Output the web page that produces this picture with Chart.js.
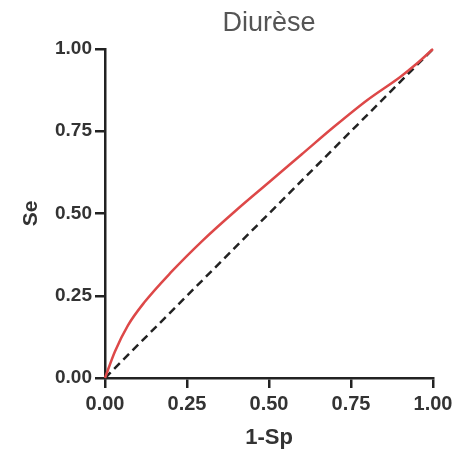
<!DOCTYPE html>
<html>
<head>
<meta charset="utf-8">
<script src="https://cdn.jsdelivr.net/npm/chart.js@4"></script>
<style>
  html, body { margin: 0; padding: 0; background: #fff; }
  #wrap { width: 457px; height: 454px; }
</style>
</head>
<body>
<div id="wrap"><canvas id="c" width="457" height="454"></canvas></div>
<script>
const chartTitle = 'Diurèse';
const xTitle = '1-Sp';
const yTitle = 'Se';
const tickValues = [0, 0.25, 0.5, 0.75, 1];
const rocX = [0, 0.03, 0.07, 0.12, 0.2, 0.3, 0.4, 0.5, 0.6, 0.7, 0.8, 0.9, 0.95, 1];
const rocY = [0, 0.08, 0.16, 0.23, 0.32, 0.42, 0.51, 0.595, 0.68, 0.765, 0.845, 0.915, 0.955, 1];
const refX = [0, 1];
const refY = [0, 1];

const rocData = rocX.map((x, i) => ({ x: x, y: rocY[i] }));
const refData = refX.map((x, i) => ({ x: x, y: refY[i] }));

const axisColor = '#222';
const textColor = '#333';
const FONT = "'Liberation Sans', Arial, sans-serif";

new Chart(document.getElementById('c'), {
  type: 'scatter',
  data: {
    datasets: [
      {
        label: 'Diagonale',
        data: refData,
        showLine: true,
        borderColor: '#222',
        borderWidth: 2.5,
        borderDash: [8, 5],
        pointRadius: 0,
        fill: false,
        clip: false,
        order: 2
      },
      {
        label: 'Diurèse',
        data: rocData,
        showLine: true,
        borderColor: '#dd4848',
        borderWidth: 2.5,
        pointRadius: 0,
        cubicInterpolationMode: 'monotone',
        fill: false,
        clip: false,
        order: 1
      }
    ]
  },
  options: {
    responsive: false,
    animation: false,
    layout: { padding: { left: 0, right: 24, top: 0, bottom: 0 } },
    plugins: {
      legend: { display: false },
      tooltip: { enabled: false },
      title: {
        display: true,
        text: chartTitle,
        fullSize: false,
        color: '#555',
        font: { family: FONT, size: 27, weight: 'normal' },
        padding: { top: 7, bottom: 9.6 }
      }
    },
    scales: {
      x: {
        type: 'linear',
        min: 0,
        max: 1,
        afterBuildTicks: (s) => { s.ticks = tickValues.map(v => ({ value: v })); },
        afterFit: (s) => { s.height = 76; },
        border: { display: true, color: axisColor, width: 2.5 },
        grid: { display: true, drawOnChartArea: false, drawTicks: true, tickLength: 10, color: axisColor, lineWidth: 2.5 },
        ticks: {
          color: textColor,
          padding: 4,
          maxRotation: 0,
          font: { family: FONT, size: 20, weight: 'bold' },
          callback: (v) => Number(v).toFixed(2)
        },
        title: {
          display: true,
          text: xTitle,
          color: textColor,
          font: { family: FONT, size: 22, weight: 'bold' },
          padding: { top: 0, bottom: 3 }
        }
      },
      y: {
        type: 'linear',
        min: 0,
        max: 1,
        afterBuildTicks: (s) => { s.ticks = tickValues.map(v => ({ value: v })); },
        afterFit: (s) => { s.width = 105; },
        border: { display: true, color: axisColor, width: 2.5 },
        grid: { display: true, drawOnChartArea: false, drawTicks: true, tickLength: 10, color: axisColor, lineWidth: 2.5 },
        ticks: {
          color: textColor,
          padding: 3,
          font: { family: FONT, size: 19, weight: 'bold' },
          callback: (v) => Number(v).toFixed(2)
        },
        title: {
          display: true,
          text: yTitle,
          color: textColor,
          font: { family: FONT, size: 21, weight: 'bold' },
          padding: { top: 19, bottom: 0 }
        }
      }
    }
  }
});
</script>
</body>
</html>
